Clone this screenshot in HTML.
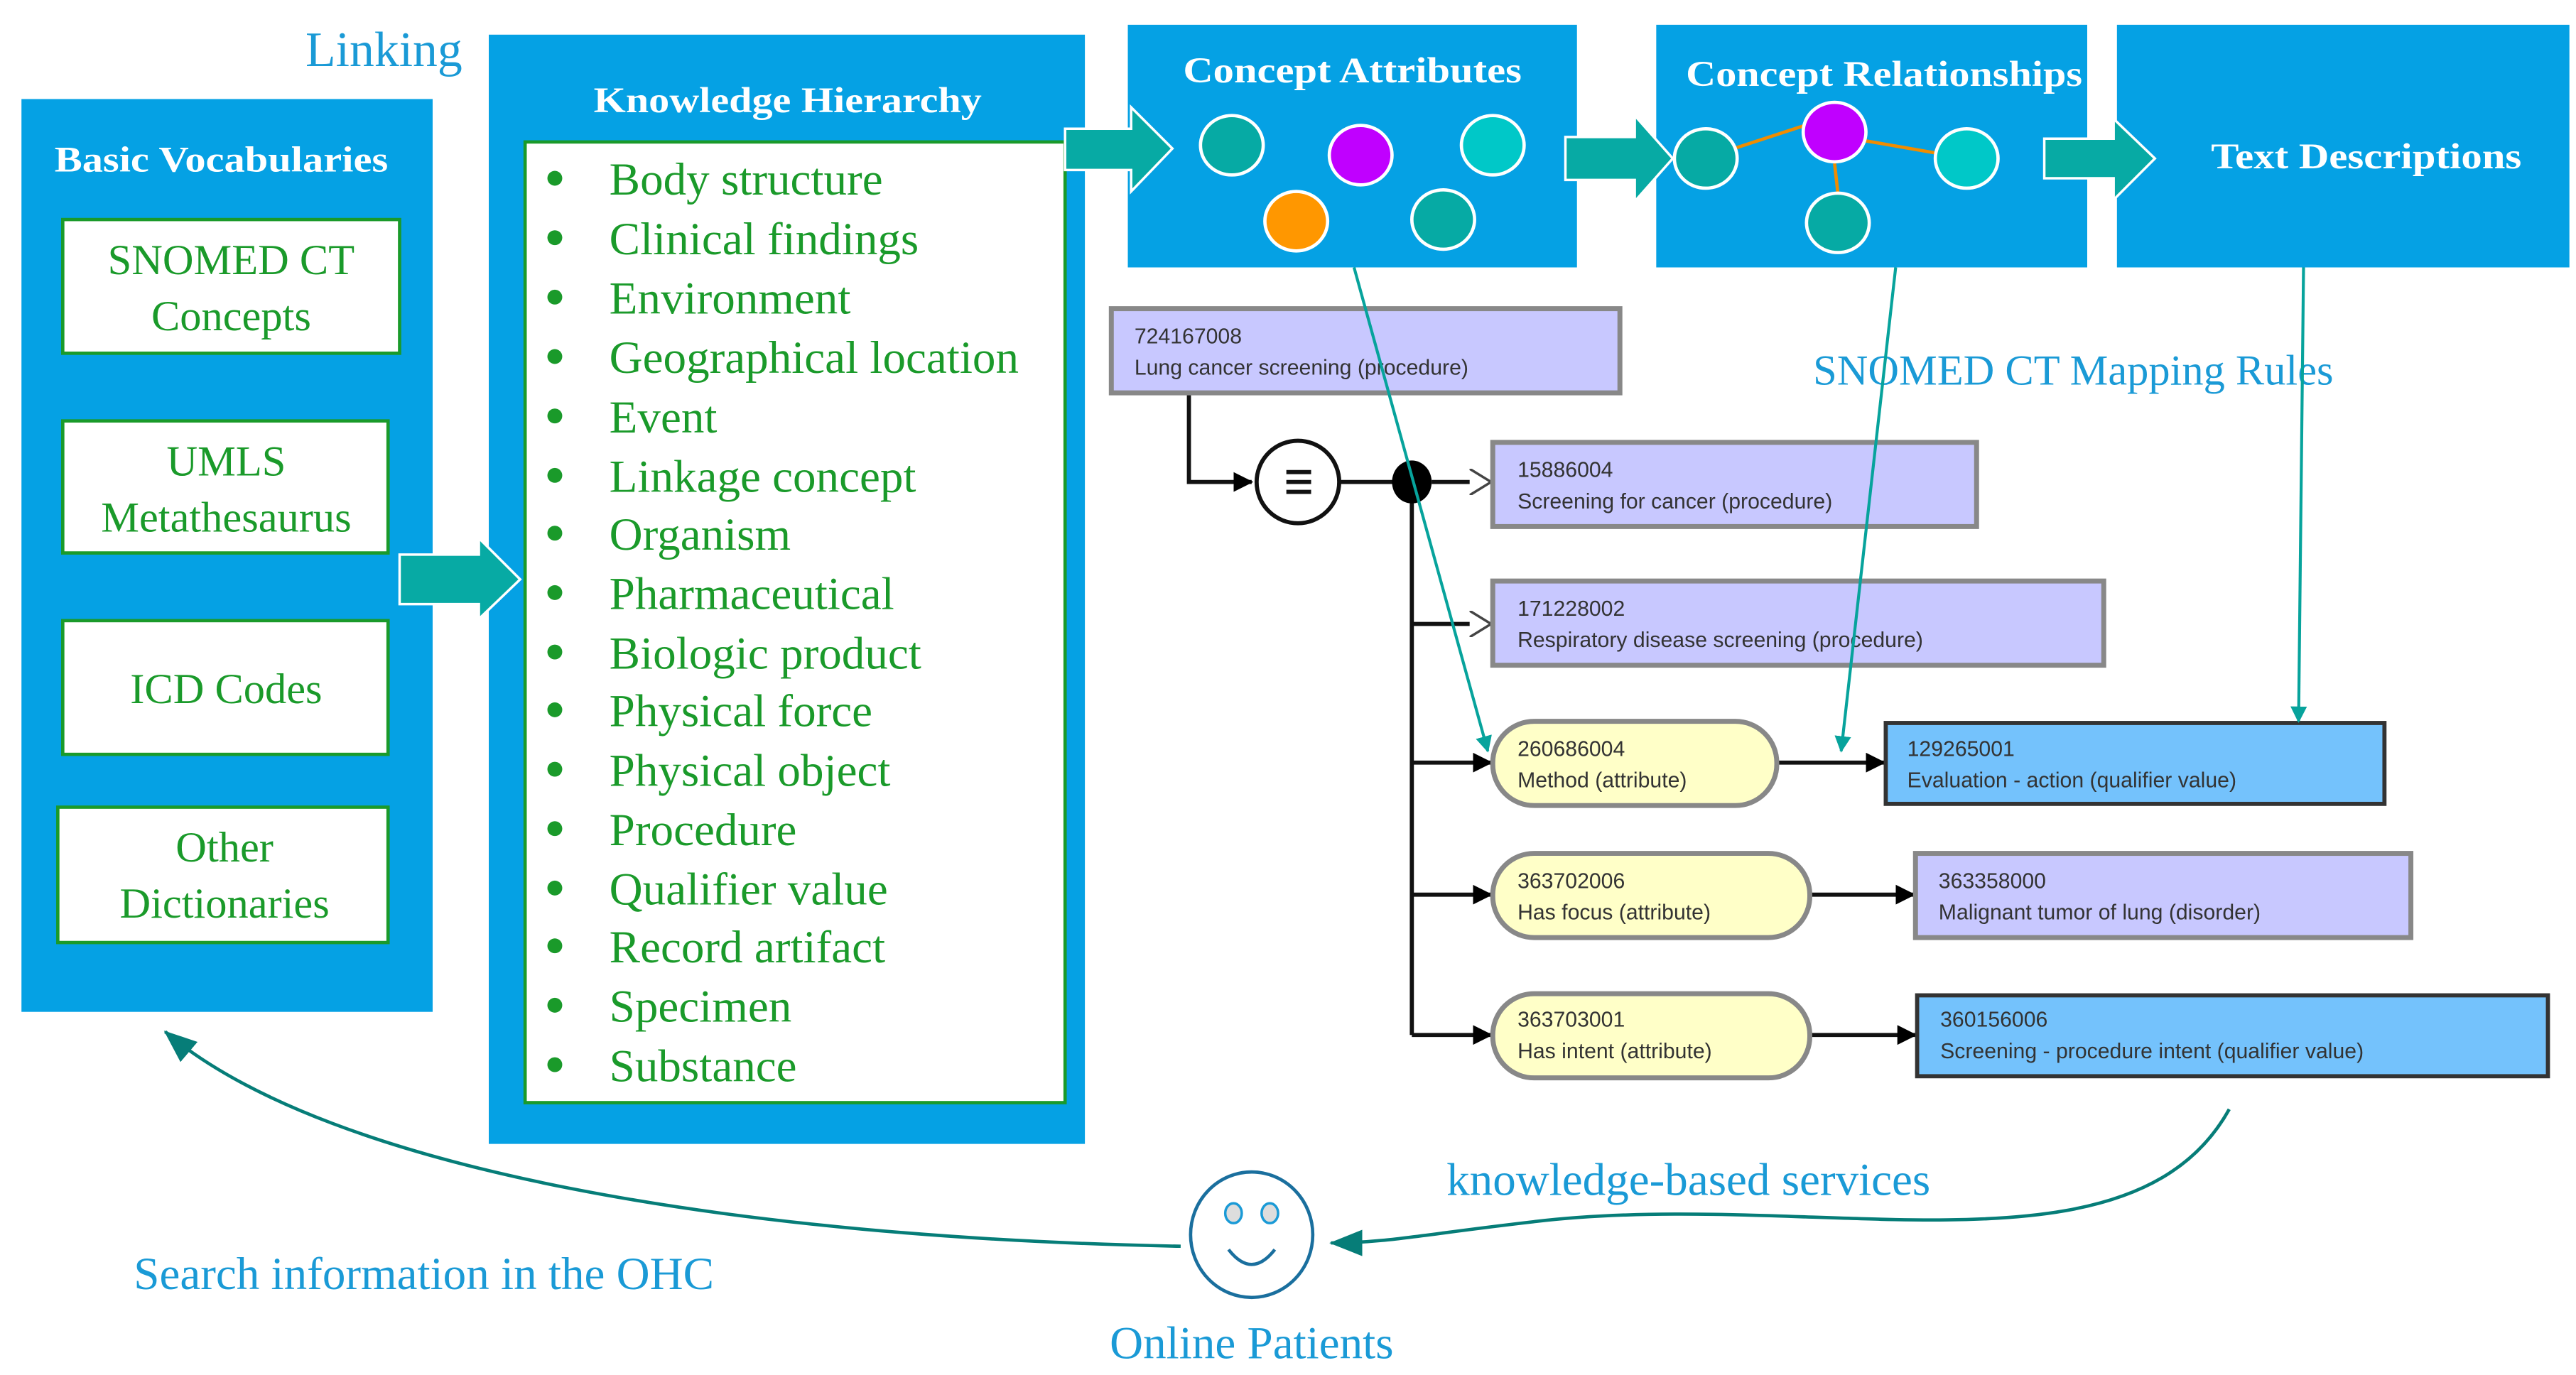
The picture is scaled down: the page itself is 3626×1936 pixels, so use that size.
<!DOCTYPE html>
<html><head><meta charset="utf-8"><style>html,body{margin:0;padding:0;background:#fff}svg{display:block}</style></head>
<body>
<svg width="3626" height="1936" viewBox="0 0 1560 833" preserveAspectRatio="none" xmlns="http://www.w3.org/2000/svg" font-family="'Liberation Serif', serif">
<defs>
<marker id="ta" markerWidth="10" markerHeight="10" refX="9" refY="5" orient="auto" markerUnits="userSpaceOnUse"><path d="M0,0 L10,5 L0,10 Z" fill="#07a39c"/></marker>
<marker id="tb" markerWidth="20" markerHeight="16" refX="19" refY="8" orient="auto" markerUnits="userSpaceOnUse"><path d="M0,0 L20,8 L0,16 Z" fill="#067d78"/></marker>
<marker id="ka" markerWidth="12" markerHeight="12" refX="11" refY="6" orient="auto" markerUnits="userSpaceOnUse"><path d="M0,0 L12,6 L0,12 Z" fill="#000"/></marker>
<marker id="ko" markerWidth="14" markerHeight="16" refX="13" refY="8" orient="auto" markerUnits="userSpaceOnUse"><path d="M0,0 L13,8 L0,16" fill="#fff" stroke="#444" stroke-width="1.5"/></marker>
</defs>

<text x="185" y="40" font-size="30" fill="#1a9ad6">Linking</text>

<!-- Basic Vocabularies -->
<rect x="13" y="60" width="249" height="553" fill="#05a1e4"/>
<text x="134" y="104" font-size="22" font-weight="bold" fill="#fff" text-anchor="middle" textLength="202" lengthAdjust="spacingAndGlyphs">Basic Vocabularies</text>
<g fill="#fff" stroke="#1a9a2a" stroke-width="2">
<rect x="38" y="133" width="204" height="81"/>
<rect x="38" y="255" width="197" height="80"/>
<rect x="38" y="376" width="197" height="81"/>
<rect x="35" y="489" width="200" height="82"/>
</g>
<g fill="#1a9a2a" font-size="26" text-anchor="middle">
<text x="140" y="166">SNOMED CT</text><text x="140" y="200">Concepts</text>
<text x="137" y="288">UMLS</text><text x="137" y="322">Metathesaurus</text>
<text x="137" y="426">ICD Codes</text>
<text x="136" y="522">Other</text><text x="136" y="556">Dictionaries</text>
</g>

<!-- Knowledge Hierarchy -->
<rect x="296" y="21" width="361" height="672" fill="#05a1e4"/>
<text x="477" y="68" font-size="22" font-weight="bold" fill="#fff" text-anchor="middle" textLength="235" lengthAdjust="spacingAndGlyphs">Knowledge Hierarchy</text>
<rect x="318" y="86" width="327" height="582" fill="#fff" stroke="#1a9a2a" stroke-width="2"/>
<g fill="#1a9a2a" font-size="28">
<circle cx="336" cy="108" r="4.5"/><circle cx="336" cy="144" r="4.5"/><circle cx="336" cy="180" r="4.5"/><circle cx="336" cy="216" r="4.5"/><circle cx="336" cy="252" r="4.5"/><circle cx="336" cy="288" r="4.5"/><circle cx="336" cy="323" r="4.5"/><circle cx="336" cy="359" r="4.5"/><circle cx="336" cy="395" r="4.5"/><circle cx="336" cy="430" r="4.5"/><circle cx="336" cy="466" r="4.5"/><circle cx="336" cy="502" r="4.5"/><circle cx="336" cy="538" r="4.5"/><circle cx="336" cy="573" r="4.5"/><circle cx="336" cy="609" r="4.5"/><circle cx="336" cy="645" r="4.5"/>
<text x="369" y="118">Body structure</text>
<text x="369" y="154">Clinical findings</text>
<text x="369" y="190">Environment</text>
<text x="369" y="226">Geographical location</text>
<text x="369" y="262">Event</text>
<text x="369" y="298">Linkage concept</text>
<text x="369" y="333">Organism</text>
<text x="369" y="369">Pharmaceutical</text>
<text x="369" y="405">Biologic product</text>
<text x="369" y="440">Physical force</text>
<text x="369" y="476">Physical object</text>
<text x="369" y="512">Procedure</text>
<text x="369" y="548">Qualifier value</text>
<text x="369" y="583">Record artifact</text>
<text x="369" y="619">Specimen</text>
<text x="369" y="655">Substance</text>
</g>

<!-- top boxes -->
<rect x="683" y="15" width="272" height="147" fill="#05a1e4"/>
<rect x="1003" y="15" width="261" height="147" fill="#05a1e4"/>
<rect x="1282" y="15" width="274" height="147" fill="#05a1e4"/>
<g fill="#fff" font-size="22" font-weight="bold" text-anchor="middle">
<text x="819" y="50" textLength="205" lengthAdjust="spacingAndGlyphs">Concept Attributes</text>
<text x="1141" y="52" textLength="240" lengthAdjust="spacingAndGlyphs">Concept Relationships</text>
<text x="1433" y="102" textLength="188" lengthAdjust="spacingAndGlyphs">Text Descriptions</text>
</g>

<!-- arrows teal (on top of boxes) -->
<g fill="#07aaa4" stroke="#fff" stroke-width="1.5">
<path d="M242,336 L290,336 L290,326 L315,351 L290,375 L290,366 L242,366 Z"/>
<path d="M645,78 L685,78 L685,65 L710,90 L685,116 L685,103 L645,103 Z"/>
<path d="M948,83 L990,83 L990,70 L1013,96 L990,122 L990,109 L948,109 Z"/>
<path d="M1238,84 L1280,84 L1280,72 L1305,96 L1280,121 L1280,108 L1238,108 Z"/>
</g>

<g stroke="#fff" stroke-width="2">
<ellipse cx="746" cy="88" rx="19" ry="18" fill="#06aaa4"/>
<ellipse cx="824" cy="94" rx="19" ry="18" fill="#c000ff"/>
<ellipse cx="904" cy="88" rx="19" ry="18" fill="#00c8c8"/>
<ellipse cx="785" cy="134" rx="19" ry="18" fill="#ff9700"/>
<ellipse cx="874" cy="133" rx="19" ry="18" fill="#06aaa4"/>
</g>
<g stroke="#f08c00" stroke-width="2">
<line x1="1050" y1="90" x2="1093" y2="76"/><line x1="1128" y1="85" x2="1174" y2="93"/><line x1="1111" y1="99" x2="1113" y2="117"/>
</g>
<g stroke="#fff" stroke-width="2">
<ellipse cx="1033" cy="96" rx="19" ry="18" fill="#06aaa4"/>
<ellipse cx="1111" cy="80" rx="19" ry="18" fill="#c000ff"/>
<ellipse cx="1191" cy="96" rx="19" ry="18" fill="#00c8c8"/>
<ellipse cx="1113" cy="135" rx="19" ry="18" fill="#06aaa4"/>
</g>

<text x="1098" y="233" font-size="26" fill="#1a9ad6">SNOMED CT Mapping Rules</text>

<!-- graph connectors -->
<g stroke="#111" stroke-width="2.5" fill="none">
<polyline points="720,239 720,292 758,292" marker-end="url(#ka)"/>
<line x1="811" y1="292" x2="845" y2="292"/>
<line x1="867" y1="292" x2="903" y2="292" marker-end="url(#ko)"/>
<line x1="855" y1="292" x2="855" y2="627"/>
<line x1="855" y1="378" x2="903" y2="378" marker-end="url(#ko)"/>
<line x1="855" y1="462" x2="903" y2="462" marker-end="url(#ka)"/>
<line x1="855" y1="542" x2="903" y2="542" marker-end="url(#ka)"/>
<line x1="855" y1="627" x2="903" y2="627" marker-end="url(#ka)"/>
<line x1="1076" y1="462" x2="1141" y2="462" marker-end="url(#ka)"/>
<line x1="1096" y1="542" x2="1159" y2="542" marker-end="url(#ka)"/>
<line x1="1096" y1="627" x2="1160" y2="627" marker-end="url(#ka)"/>
</g>
<circle cx="786" cy="292" r="25" fill="#fff" stroke="#111" stroke-width="2.5"/>
<g stroke="#111" stroke-width="2.5"><line x1="779" y1="286" x2="794" y2="286"/><line x1="779" y1="292" x2="794" y2="292"/><line x1="779" y1="298" x2="794" y2="298"/></g>
<ellipse cx="855" cy="292" rx="12" ry="13" fill="#000"/>

<!-- concept boxes -->
<g stroke="#888" stroke-width="3">
<rect x="673" y="187" width="308" height="51" fill="#c8c8ff"/>
<rect x="904" y="268" width="293" height="51" fill="#c8c8ff"/>
<rect x="904" y="352" width="370" height="51" fill="#c8c8ff"/>
<rect x="1160" y="517" width="300" height="51" fill="#c8c8ff"/>
<rect x="904" y="437" width="172" height="51" rx="25" fill="#ffffc8"/>
<rect x="904" y="517" width="192" height="51" rx="25" fill="#ffffc8"/>
<rect x="904" y="602" width="192" height="51" rx="25" fill="#ffffc8"/>
</g>
<g stroke="#333" stroke-width="2.5">
<rect x="1142" y="438" width="302" height="49" fill="#74c2fc"/>
<rect x="1161" y="603" width="382" height="49" fill="#74c2fc"/>
</g>
<g font-family="'Liberation Sans', sans-serif" font-size="13" fill="#333">
<text x="687" y="208">724167008</text><text x="687" y="227">Lung cancer screening (procedure)</text>
<text x="919" y="289">15886004</text><text x="919" y="308">Screening for cancer (procedure)</text>
<text x="919" y="373">171228002</text><text x="919" y="392">Respiratory disease screening (procedure)</text>
<text x="919" y="458">260686004</text><text x="919" y="477">Method (attribute)</text>
<text x="919" y="538">363702006</text><text x="919" y="557">Has focus (attribute)</text>
<text x="919" y="622">363703001</text><text x="919" y="641">Has intent (attribute)</text>
<text x="1155" y="458">129265001</text><text x="1155" y="477">Evaluation - action (qualifier value)</text>
<text x="1174" y="538">363358000</text><text x="1174" y="557">Malignant tumor of lung (disorder)</text>
<text x="1175" y="622">360156006</text><text x="1175" y="641">Screening - procedure intent (qualifier value)</text>
</g>

<!-- teal mapping lines -->
<g stroke="#07a39c" stroke-width="1.8" fill="none">
<line x1="820" y1="162" x2="901" y2="455" marker-end="url(#ta)"/>
<line x1="1148" y1="162" x2="1115" y2="455" marker-end="url(#ta)"/>
<line x1="1395" y1="162" x2="1392" y2="437" marker-end="url(#ta)"/>
</g>

<!-- bottom curves -->
<g stroke="#067d78" stroke-width="2" fill="none">
<path d="M1350,672 C1290,780 1100,720 930,740 C860,748 840,753 806,753" marker-end="url(#tb)"/>
<path d="M715,755 C450,750 200,710 100,625" marker-end="url(#tb)"/>
</g>
<text x="876" y="724" font-size="28" fill="#1a9ad6">knowledge-based services</text>
<text x="81" y="781" font-size="28" fill="#1a9ad6">Search information in the OHC</text>

<!-- smiley -->
<ellipse cx="758" cy="748" rx="37" ry="38" fill="#fff" stroke="#1a6f9e" stroke-width="2"/>
<ellipse cx="747" cy="735" rx="5" ry="6" fill="#ddd" stroke="#1a9ad6" stroke-width="1.5"/>
<ellipse cx="769" cy="735" rx="5" ry="6" fill="#ddd" stroke="#1a9ad6" stroke-width="1.5"/>
<path d="M744,757 Q758,775 772,757" fill="none" stroke="#1a6f9e" stroke-width="2"/>
<text x="758" y="823" font-size="28" fill="#1a9ad6" text-anchor="middle">Online Patients</text>
</svg>
</body></html>
